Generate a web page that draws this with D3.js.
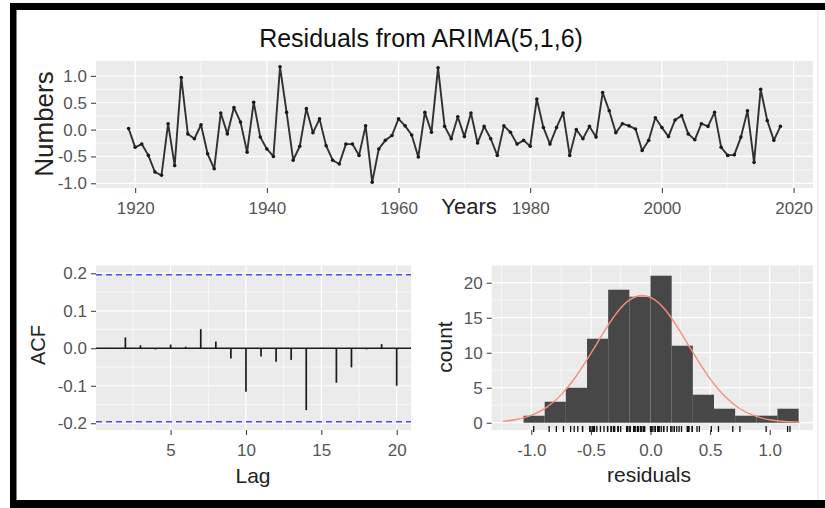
<!DOCTYPE html>
<html><head><meta charset="utf-8">
<script src="https://cdn.jsdelivr.net/npm/d3@7"></script>
<style>
body{margin:0;background:#fff;}
svg{display:block;font-family:"Liberation Sans",Arial,Helvetica,sans-serif;}
</style>
</head><body>
<svg id="chart" width="825" height="508"></svg>
<script>
// ---------------- DATA ----------------
const chartTitle = "Residuals from ARIMA(5,1,6)";
const firstYear = 1919;
const residuals = [
  0.02,-0.33,-0.27,-0.48,-0.79,-0.85, 0.11,-0.67, 0.97,-0.08,
 -0.17, 0.09,-0.45,-0.73, 0.31,-0.08, 0.41, 0.14,-0.42, 0.51,
 -0.14,-0.36,-0.50, 1.17, 0.32,-0.57,-0.31, 0.39,-0.06, 0.20,
 -0.30,-0.57,-0.64,-0.27,-0.27,-0.48, 0.07,-0.98,-0.36,-0.20,
 -0.11, 0.20, 0.07,-0.10,-0.51, 0.32,-0.05, 1.15, 0.06,-0.17,
  0.24,-0.13, 0.31,-0.25, 0.06,-0.17,-0.48, 0.07,-0.05,-0.27,
 -0.20,-0.31, 0.57, 0.04,-0.27, 0.04, 0.31,-0.48, 0.00,-0.17,
  0.06,-0.14, 0.69, 0.35,-0.06, 0.11, 0.07, 0.01,-0.39,-0.20,
  0.22, 0.04,-0.13, 0.18, 0.26,-0.08,-0.19, 0.11, 0.06, 0.32,
 -0.33,-0.48,-0.47,-0.14, 0.35,-0.61, 0.75, 0.17,-0.20, 0.06
];
const years = residuals.map((d, i) => firstYear + i);

const acfLags   = [1,2,3,4,5,6,7,8,9,10,11,12,13,14,15,16,17,18,19,20];
const acfValues = [-0.002,0.029,0.008,-0.003,0.010,0.004,0.051,0.018,-0.027,-0.116,
                   -0.022,-0.036,-0.031,-0.165,0.001,-0.092,-0.051,-0.003,0.011,-0.100];
const acfCI = 0.196;

const histBinStart = -1.065;
const histBinWidth = 0.1775;
const histCounts = [1,3,5,12,19,18,21,11,4,2,1,1,2];

const normalX = [-1.24,-1.125,-1.0,-0.875,-0.75,-0.625,-0.5,-0.375,-0.25,-0.125,0,0.125,0.25,0.375,0.5,0.625,0.75,0.875,1.0,1.125,1.25];
const normalY = [0.19,0.46,1.06,2.16,3.98,6.6,9.9,13.4,16.4,18.0,17.9,16.1,13.0,9.5,6.26,3.73,2.0,0.97,0.42,0.17,0.06];

const topXTicks = [1920,1940,1960,1980,2000,2020];
const topXMinor = [1930,1950,1970,1990,2010];
const topYTicks = [-1.0,-0.5,0.0,0.5,1.0];
const topYLabels = ["-1.0","-0.5","0.0","0.5","1.0"];
const topYMinor = [-0.75,-0.25,0.25,0.75];

const acfXTicks = [5,10,15,20];
const acfXMinor = [2.5,7.5,12.5,17.5];
const acfYTicks = [-0.2,-0.1,0.0,0.1,0.2];
const acfYLabels = ["-0.2","-0.1","0.0","0.1","0.2"];
const acfYMinor = [-0.15,-0.05,0.05,0.15];

const histXTicks = [-1.0,-0.5,0.0,0.5,1.0];
const histXLabels = ["-1.0","-0.5","0.0","0.5","1.0"];
const histXMinor = [-1.25,-0.75,-0.25,0.25,0.75,1.25];
const histYTicks = [0,5,10,15,20];
const histYLabels = ["0","5","10","15","20"];
const histYMinor = [2.5,7.5,12.5,17.5];

// ---------------- DRAW ----------------
const svg = d3.select("#chart");
svg.append("rect").attr("width",825).attr("height",508).attr("fill","#fff");

const TICK_COL = "#333333", LABEL_COL = "#555555";

function panel(x, y, xMaj, xMin, yMaj, yMin) {
  const [x0, x1] = x.range(), [y1, y0] = y.range();
  const g = svg.append("g");
  g.append("rect").attr("x", x0).attr("y", y0).attr("width", x1 - x0).attr("height", y1 - y0).attr("fill", "#EBEBEB");
  g.selectAll(".vmin").data(xMin).join("line").attr("x1", d => x(d)).attr("x2", d => x(d))
    .attr("y1", y0).attr("y2", y1).attr("stroke", "#fff").attr("stroke-width", 0.6);
  g.selectAll(".hmin").data(yMin).join("line").attr("y1", d => y(d)).attr("y2", d => y(d))
    .attr("x1", x0).attr("x2", x1).attr("stroke", "#fff").attr("stroke-width", 0.6);
  g.selectAll(".vmaj").data(xMaj).join("line").attr("x1", d => x(d)).attr("x2", d => x(d))
    .attr("y1", y0).attr("y2", y1).attr("stroke", "#fff").attr("stroke-width", 1.2);
  g.selectAll(".hmaj").data(yMaj).join("line").attr("y1", d => y(d)).attr("y2", d => y(d))
    .attr("x1", x0).attr("x2", x1).attr("stroke", "#fff").attr("stroke-width", 1.2);
  return g;
}

function axes(x, y, xTicks, xLabels, yTicks, yLabels) {
  const x0 = x.range()[0];
  const ax = svg.append("g").attr("transform", `translate(0,${y.range()[0]})`)
    .call(d3.axisBottom(x).tickValues(xTicks).tickFormat((d, i) => xLabels[i]).tickSize(5).tickPadding(9));
  const ay = svg.append("g").attr("transform", `translate(${x0},0)`)
    .call(d3.axisLeft(y).tickValues(yTicks).tickFormat((d, i) => yLabels[i]).tickSize(5).tickPadding(4));
  [ax, ay].forEach(a => {
    a.select(".domain").remove();
    a.selectAll(".tick line").attr("stroke", TICK_COL).attr("stroke-width", 1);
    a.selectAll(".tick text").attr("fill", LABEL_COL).style("font-size", "17px")
      .style("font-family", '"Liberation Sans",Arial,sans-serif');
  });
}

// ---- Top panel: residual time series ----
const xTop = d3.scaleLinear().domain([1914.05, 2022.95]).range([96, 813]);
const yTop = d3.scaleLinear().domain([-1.0875, 1.2775]).range([188, 61]);
panel(xTop, yTop, topXTicks, topXMinor, topYTicks, topYMinor);
axes(xTop, yTop, topXTicks, topXTicks.map(String), topYTicks, topYLabels);

const series = years.map((yr, i) => ({ yr, v: residuals[i] }));
svg.append("path").datum(series)
  .attr("d", d3.line().x(d => xTop(d.yr)).y(d => yTop(d.v)))
  .attr("fill", "none").attr("stroke", "#303030").attr("stroke-width", 1.9).attr("stroke-linejoin", "round");
svg.append("g").selectAll("circle").data(series).join("circle")
  .attr("cx", d => xTop(d.yr)).attr("cy", d => yTop(d.v)).attr("r", 1.8).attr("fill", "#1a1a1a");

// ---- ACF panel ----
const xAcf = d3.scaleLinear().domain([0.05, 20.95]).range([96, 411]);
const yAcf = d3.scaleLinear().domain([-0.218, 0.2208]).range([430, 265.5]);
panel(xAcf, yAcf, acfXTicks, acfXMinor, acfYTicks, acfYMinor);
axes(xAcf, yAcf, acfXTicks, acfXTicks.map(String), acfYTicks, acfYLabels);

svg.append("line").attr("x1", 96).attr("x2", 411).attr("y1", yAcf(0)).attr("y2", yAcf(0))
  .attr("stroke", "#1a1a1a").attr("stroke-width", 1.5);
svg.append("g").selectAll("line").data(acfLags).join("line")
  .attr("x1", d => xAcf(d)).attr("x2", d => xAcf(d))
  .attr("y1", yAcf(0)).attr("y2", (d, i) => yAcf(acfValues[i]))
  .attr("stroke", "#1a1a1a").attr("stroke-width", 1.7);
svg.append("g").selectAll("line").data([acfCI, -acfCI]).join("line")
  .attr("x1", 96).attr("x2", 411).attr("y1", d => yAcf(d)).attr("y2", d => yAcf(d))
  .attr("stroke", "#4b4bff").attr("stroke-width", 1.5).attr("stroke-dasharray", "6,4");

// ---- Histogram panel ----
const xHist = d3.scaleLinear().domain([-1.332, 1.363]).range([491.7, 813]);
const yHist = d3.scaleLinear().domain([-1.04, 22.46]).range([430, 265.5]);
panel(xHist, yHist, histXTicks, histXMinor, histYTicks, histYMinor);
axes(xHist, yHist, histXTicks, histXLabels, histYTicks, histYLabels);

svg.append("g").selectAll("rect").data(histCounts).join("rect")
  .attr("x", (d, i) => xHist(histBinStart + i * histBinWidth))
  .attr("width", (d, i) => xHist(histBinStart + (i + 1) * histBinWidth) - xHist(histBinStart + i * histBinWidth))
  .attr("y", d => yHist(d)).attr("height", d => yHist(0) - yHist(d))
  .attr("fill", "#474747");

svg.append("path").datum(normalX.map((x, i) => [x, normalY[i]]))
  .attr("d", d3.line().x(d => xHist(d[0])).y(d => yHist(d[1])).curve(d3.curveNatural))
  .attr("fill", "none").attr("stroke", "#f4907a").attr("stroke-width", 1.4);

svg.append("g").selectAll("line").data(residuals).join("line")
  .attr("x1", d => xHist(d)).attr("x2", d => xHist(d))
  .attr("y1", 426).attr("y2", 432).attr("stroke", "#111").attr("stroke-width", 1.3);

// ---------------- TEXT ----------------
svg.append("text").attr("x", 421).attr("y", 47).attr("text-anchor", "middle")
  .style("font-size", "25px").attr("fill", "#111").text(chartTitle);
svg.append("text").attr("transform", "translate(53,124) rotate(-90)").attr("text-anchor", "middle")
  .style("font-size", "26px").attr("fill", "#222").text("Numbers");
svg.append("text").attr("x", 469).attr("y", 214).attr("text-anchor", "middle")
  .style("font-size", "22px").attr("fill", "#222").text("Years");
svg.append("text").attr("transform", "translate(45,345) rotate(-90)").attr("text-anchor", "middle")
  .style("font-size", "20px").attr("fill", "#222").text("ACF");
svg.append("text").attr("x", 253).attr("y", 483).attr("text-anchor", "middle")
  .style("font-size", "21px").attr("fill", "#222").text("Lag");
svg.append("text").attr("transform", "translate(452,347) rotate(-90)").attr("text-anchor", "middle")
  .style("font-size", "21px").attr("fill", "#222").text("count");
svg.append("text").attr("x", 649).attr("y", 482).attr("text-anchor", "middle")
  .style("font-size", "21px").attr("fill", "#222").text("residuals");

// ---------------- FRAME ----------------
svg.append("line").attr("x1", 818).attr("x2", 818).attr("y1", 10).attr("y2", 500)
  .attr("stroke", "#e4e4e4").attr("stroke-width", 1);
svg.append("rect").attr("x", 10).attr("y", 3).attr("width", 815).attr("height", 7).attr("fill", "#000");
svg.append("rect").attr("x", 10).attr("y", 3).attr("width", 6.5).attr("height", 505).attr("fill", "#000");
svg.append("rect").attr("x", 10).attr("y", 500).attr("width", 815).attr("height", 8).attr("fill", "#000");
</script>
</body></html>
